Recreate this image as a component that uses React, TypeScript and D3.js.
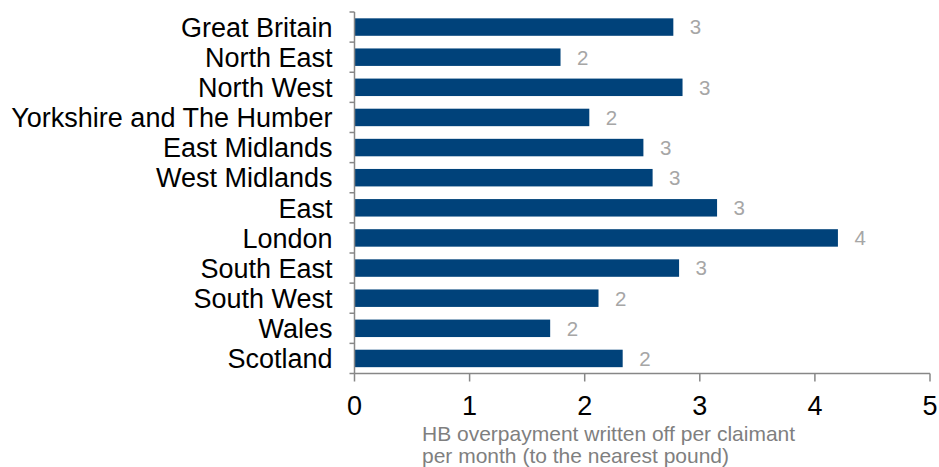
import React from "react";
import * as d3 from "d3";

const categories = [
  "Great Britain",
  "North East",
  "North West",
  "Yorkshire and The Humber",
  "East Midlands",
  "West Midlands",
  "East",
  "London",
  "South East",
  "South West",
  "Wales",
  "Scotland",
];
const values = [2.77, 1.79, 2.85, 2.04, 2.51, 2.59, 3.15, 4.2, 2.82, 2.12, 1.7, 2.33];
const xTicks = [0, 1, 2, 3, 4, 5];
const axisTitle = ["HB overpayment written off per claimant", "per month (to the nearest pound)"];

const W = 939;
const H = 467;
const left = 354.5;
const right = 930;
const top = 12;
const bottom = 373.5;

export default function App() {
  const x = d3.scaleLinear().domain([0, 5]).range([left, right]);
  const y = d3.scaleBand<string>().domain(categories).range([top, bottom]).paddingInner(0.42).paddingOuter(0.21);
  const step = y.step();
  const font = "'Liberation Sans', Arial, sans-serif";
  const axisColor = "#878787";
  const boundaries = d3.range(categories.length + 1).map((i) => top + i * step);

  return (
    <div style={{ position: "absolute", left: 0, top: 0 }}>
      <svg width={W} height={H} style={{ display: "block" }} fontFamily={font}>
        <rect width={W} height={H} fill="#ffffff" />
        {categories.map((c, i) => (
          <g key={c}>
            <rect
              x={x(0)}
              y={y(c)!}
              width={x(values[i]) - x(0)}
              height={y.bandwidth()}
              fill="#00427a"
            />
            <text
              x={x(values[i]) + 16.5}
              y={y(c)! + y.bandwidth() / 2}
              dy="0.36em"
              fontSize={20.5}
              fill="#a6a6a6"
            >
              {d3.format(".0f")(values[i])}
            </text>
            <text
              x={left - 22}
              y={y(c)! + y.bandwidth() / 2}
              dy="0.36em"
              fontSize={27}
              textAnchor="end"
              fill="#000000"
            >
              {c}
            </text>
          </g>
        ))}
        {/* y axis */}
        <line x1={left} x2={left} y1={top} y2={bottom} stroke={axisColor} strokeWidth={1.5} />
        {boundaries.map((b, i) => (
          <line key={i} x1={left - 5} x2={left} y1={b} y2={b} stroke={axisColor} strokeWidth={1.5} />
        ))}
        {/* x axis */}
        <line x1={left} x2={right} y1={bottom} y2={bottom} stroke={axisColor} strokeWidth={1.5} />
        {xTicks.map((t) => (
          <g key={t}>
            <line x1={x(t)} x2={x(t)} y1={bottom} y2={bottom + 8} stroke={axisColor} strokeWidth={1.5} />
            <text x={x(t)} y={405} dy="0.36em" fontSize={27} textAnchor="middle" fill="#000000">
              {t}
            </text>
          </g>
        ))}
        {axisTitle.map((line, i) => (
          <text key={i} x={422} y={441 + i * 21.5} fontSize={21} fill="#7f7f7f">
            {line}
          </text>
        ))}
      </svg>
    </div>
  );
}
